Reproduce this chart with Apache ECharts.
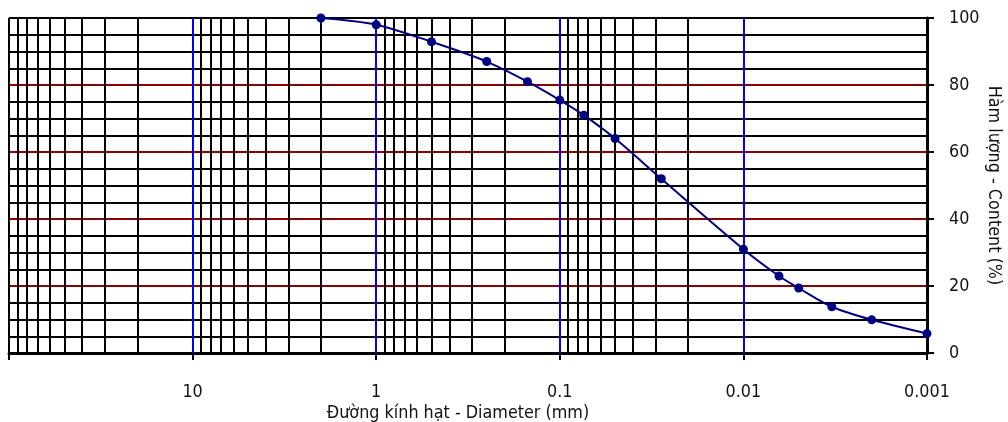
<!DOCTYPE html>
<html>
<head>
<meta charset="utf-8">
<script src="https://cdn.jsdelivr.net/npm/echarts@6/dist/echarts.min.js"></script>
<style>
  html, body { margin: 0; padding: 0; background: #fff; }
  #chart { width: 1008px; height: 422px; }
</style>
</head>
<body>
<div id="chart"></div>
<script>
// Grain-size distribution: particle diameter (mm) vs. cumulative content (%)
const diameter = [2, 1, 0.5, 0.25, 0.15, 0.1, 0.074, 0.05, 0.028, 0.01, 0.0064, 0.005, 0.0033, 0.002, 0.001];
const content  = [100, 98.0, 92.9, 87.0, 81.0, 75.5, 71.0, 64.0, 52.0, 31.0, 23.0, 19.4, 13.8, 9.9, 5.8];

// Decade tick labels on the diameter axis
const diameterTickValues = [0.001, 0.01, 0.1, 1, 10];
const diameterTickLabels = ['0.001', '0.01', '0.1', '1', '10'];

// Log-paper grid: decades and the 2..9 subdivisions inside each decade
const decadeLines = [10, 1, 0.1, 0.01];
const edgeLines = [100, 0.001];
const decadeStarts = [0.001, 0.01, 0.1, 1, 10];
const subMultipliers = [2, 3, 4, 5, 6, 7, 8, 9];

const xTitle = 'Đường kính hạt - Diameter (mm)';
const yTitle = 'Hàm lượng - Content (%)';

const FONT = '"DejaVu Sans Condensed", "Liberation Sans", sans-serif';
const FONT_SIZE = 17.8;
const NAVY = '#000080';

const gridMarks = [];
decadeStarts.forEach(function (d) {
  subMultipliers.forEach(function (m) {
    gridMarks.push({ xAxis: +(d * m).toPrecision(6), lineStyle: { color: '#000', width: 2, type: 'solid' } });
  });
});
decadeLines.forEach(function (v) {
  gridMarks.push({ xAxis: v, lineStyle: { color: '#0000ff', width: 2, type: 'solid' } });
});
edgeLines.forEach(function (v) {
  gridMarks.push({ xAxis: v, lineStyle: { color: '#000', width: 2, type: 'solid' } });
});

const chart = echarts.init(document.getElementById('chart'));
chart.setOption({
  animation: false,
  backgroundColor: '#fff',
  grid: { left: 9, right: 81, top: 18, bottom: 69, outerBoundsMode: 'none', containLabel: false },
  xAxis: {
    type: 'log',
    logBase: 10,
    min: 0.001,
    max: 100,
    inverse: true,
    name: xTitle,
    nameLocation: 'middle',
    nameGap: 51,
    nameMoveOverlap: false,
    nameTextStyle: { fontFamily: FONT, fontSize: FONT_SIZE, color: '#111', padding: [0, 20, 0, 0] },
    axisLine: { onZero: false, lineStyle: { color: '#000', width: 3 } },
    axisTick: { show: true, inside: false, length: 7, lineStyle: { color: '#000', width: 2 } },
    axisLabel: {
      margin: 30,
      fontFamily: FONT,
      fontSize: FONT_SIZE,
      color: '#111',
      formatter: function (v) {
        for (let i = 0; i < diameterTickValues.length; i++) {
          if (Math.abs(Math.log10(v) - Math.log10(diameterTickValues[i])) < 1e-6) return diameterTickLabels[i];
        }
        return '';
      }
    },
    splitLine: { show: false },
    minorTick: { show: false },
    minorSplitLine: { show: false }
  },
  yAxis: {
    type: 'value',
    position: 'right',
    min: 0,
    max: 100,
    interval: 20,
    name: yTitle,
    nameLocation: 'middle',
    nameRotate: -90,
    nameGap: 58,
    nameMoveOverlap: false,
    nameTextStyle: { fontFamily: FONT, fontSize: FONT_SIZE, color: '#111' },
    axisLine: { show: true, lineStyle: { color: '#000', width: 3 } },
    axisTick: { show: true, inside: false, length: 7, lineStyle: { color: '#000', width: 2 } },
    axisLabel: { margin: 22, fontFamily: FONT, fontSize: FONT_SIZE, color: '#111' },
    splitLine: {
      show: true,
      lineStyle: { color: ['#000', '#8b0000', '#8b0000', '#8b0000', '#8b0000', '#000'], width: 2 }
    },
    minorTick: { show: false, splitNumber: 4 },
    minorSplitLine: { show: true, lineStyle: { color: '#000', width: 2 } }
  },
  series: [
    {
      name: 'grid',
      type: 'line',
      z: 1,
      data: [],
      silent: true,
      markLine: {
        silent: true,
        symbol: ['none', 'none'],
        label: { show: false },
        animation: false,
        data: gridMarks
      }
    },
    {
      name: 'content',
      type: 'line',
      z: 5,
      smooth: 0.3,
      data: diameter.map(function (d, i) { return [d, content[i]]; }),
      symbol: 'circle',
      symbolSize: 9,
      itemStyle: { color: NAVY },
      lineStyle: { color: NAVY, width: 2 }
    }
  ]
});
</script>
</body>
</html>
